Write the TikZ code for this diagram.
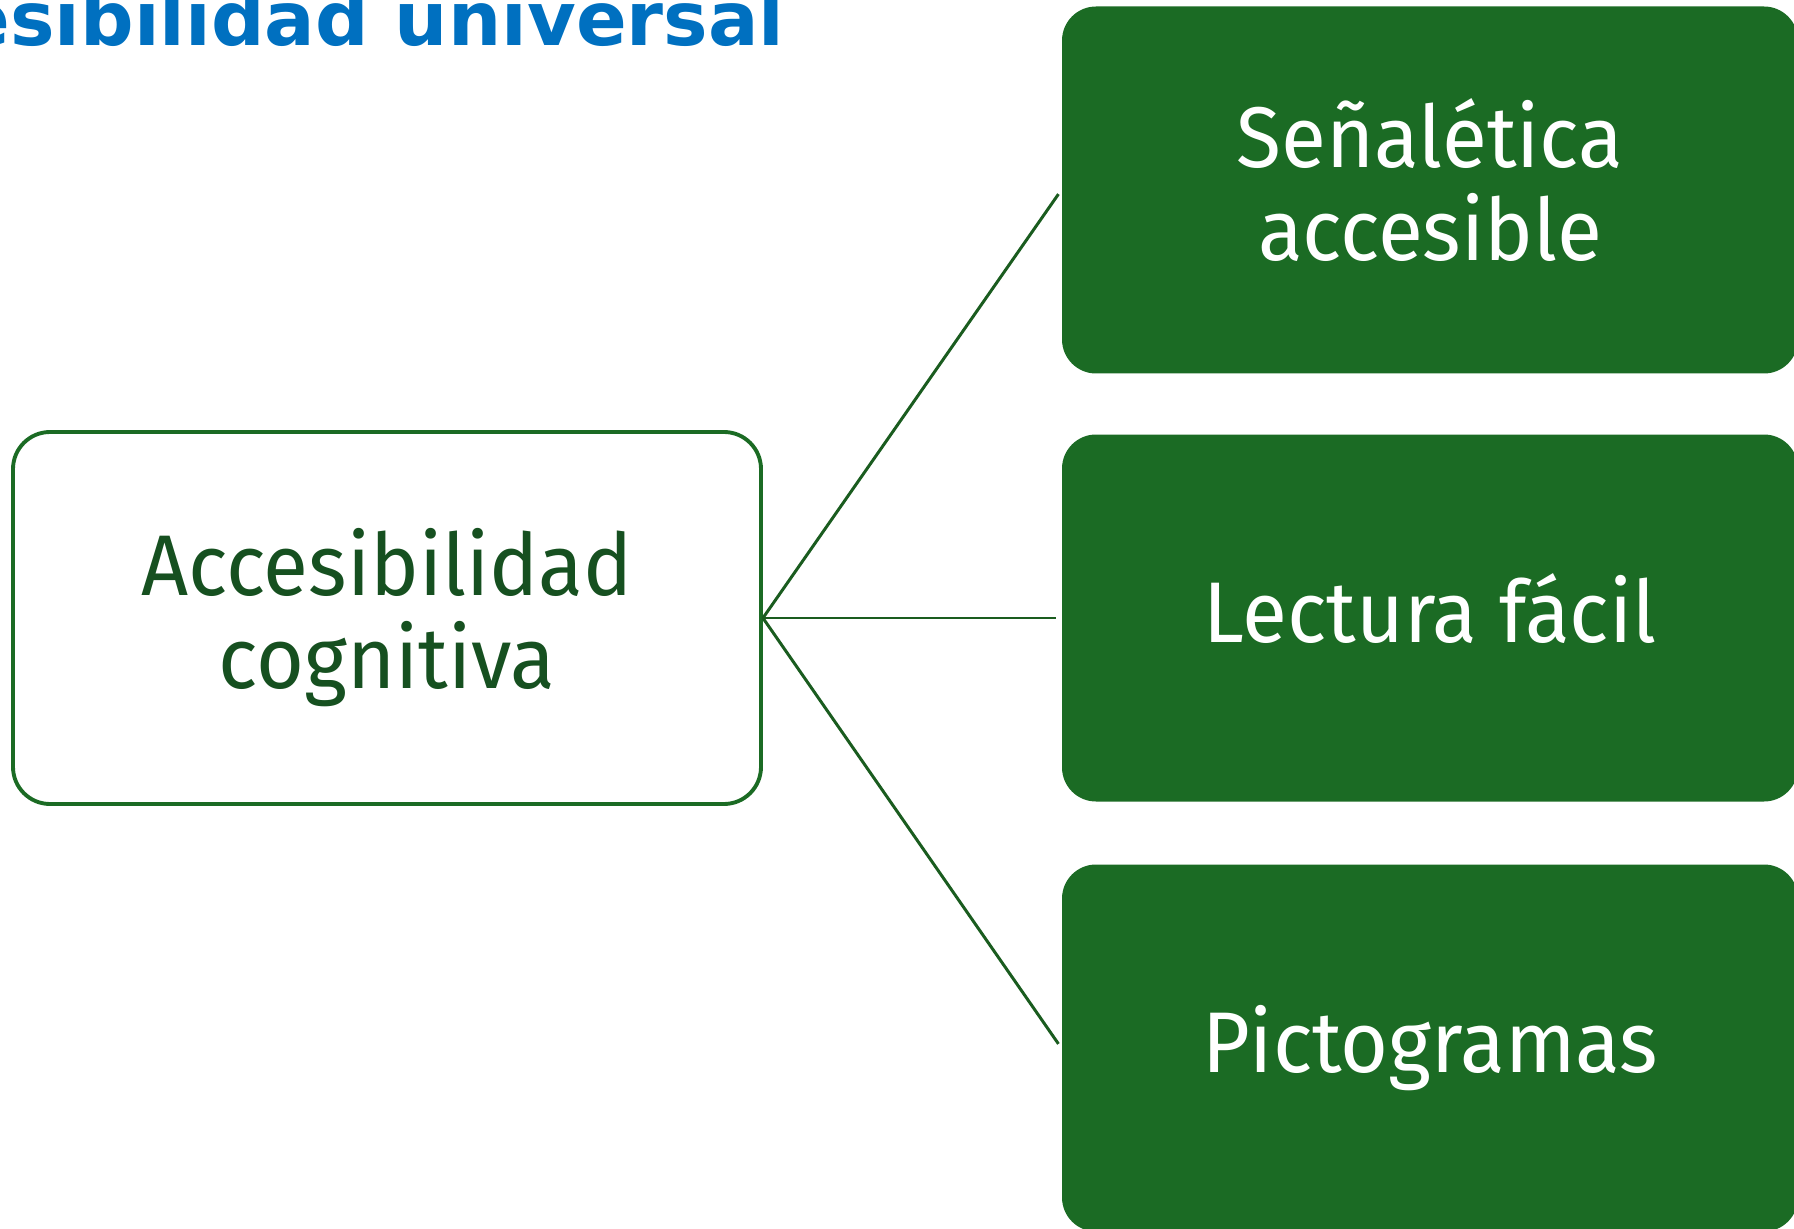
\documentclass[tikz,border=0pt]{standalone}
\usepackage{fontspec}
\setmainfont{Fira Sans}[FakeStretch=0.955]
\newfontfamily\titlefont{DejaVu Sans}
\usetikzlibrary{positioning}

\definecolor{leafgreen}{RGB}{27,107,36}
\definecolor{textgreen}{RGB}{22,80,32}
\definecolor{linegreen}{RGB}{26,92,31}
\definecolor{titleblue}{RGB}{0,112,192}

% same line box for every line of box text
\newcommand\boxstrut{\rule[-2.2mm]{0pt}{9.2mm}}

\tikzset{
  hub/.style={draw=leafgreen, line width=1.1pt, rounded corners=3.7mm, fill=white,
    minimum width=74.8mm, minimum height=37.2mm, align=center, text=textgreen,
    font=\fontsize{24.5}{26.5}\selectfont},
  leaf/.style={fill=leafgreen, rounded corners=3.4mm, minimum width=73.6mm,
    minimum height=36.7mm, align=center, text=white,
    font=\fontsize{24.5}{26.5}\selectfont},
  link/.style={draw=linegreen, line width=0.85pt, shorten >=0.5mm},
  heading/.style={inner sep=0pt, text=titleblue,
    font=\titlefont\bfseries\fontsize{21.3}{24}\selectfont}
}

\begin{document}
\begin{tikzpicture}[x=0.1mm,y=-0.1mm]

  % Frame
  \useasboundingbox (0,0) rectangle (1794,1229);

  % Title
  \node[heading, anchor=base east] (head) at (785,46) {Accesibilidad universal};

  % Boxes
  \node[hub] (cog) at (387,618) {\boxstrut Accesibilidad\\\boxstrut cognitiva};
  \node[leaf] (sen) at (1430,190) {\boxstrut Señalética\\\boxstrut accesible};
  \node[leaf] (lec) at (1430,618) {\boxstrut Lectura fácil};
  \node[leaf] (pic) at (1430,1048) {\boxstrut Pictogramas};

  % Links
  \foreach \n in {sen,lec,pic}
    \draw[link] (cog.east) -- (\n.west);

\end{tikzpicture}
\end{document}
